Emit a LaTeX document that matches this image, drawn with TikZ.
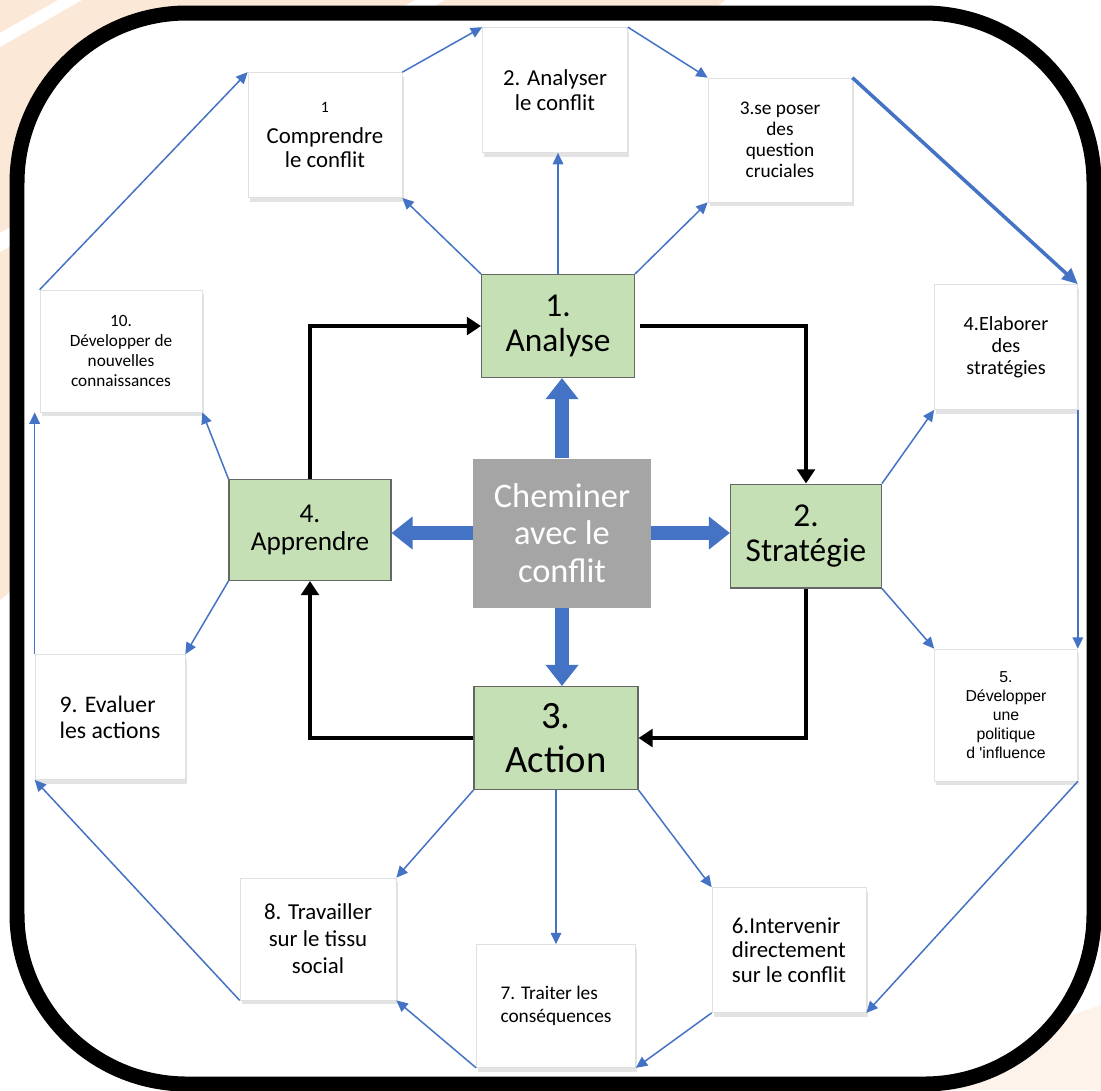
\documentclass[tikz,border=0pt]{standalone}
\usepackage{fontspec}
\setmainfont{Carlito}
\newfontfamily\arialfont{Liberation Sans}
\usetikzlibrary{arrows.meta,calc,shadows}
\definecolor{beige}{HTML}{FCE8D6}
\definecolor{beigeclair}{HTML}{FDF3EA}
\definecolor{vert}{HTML}{C5E0B4}
\definecolor{gris}{HTML}{A5A5A5}
\definecolor{bleu}{HTML}{4472C4}
\tikzset{%
	etape/.style  = {draw=black!12, fill=white, rectangle, inner sep=0pt, align=center, drop shadow={shadow xshift=1pt, shadow yshift=-2.5pt, opacity=0.22}},
	phase/.style  = {draw=black!60, line width=0.6pt, fill=vert, rectangle, inner sep=0pt, align=center},
	centre/.style = {fill=gris, rectangle, inner sep=0pt, text=white, align=center},
	fleche/.style = {bleu, line width=0.85pt, -{Triangle[length=6.5pt,width=6pt]}},
	boucle/.style = {line width=2.8pt, -{Triangle[length=8pt,width=10pt]}},
	grosse/.style = {bleu, line width=8pt, -{Triangle[length=12pt,width=18pt]}},
}
\newcommand{\taille}[2]{\fontsize{#1}{#2}\selectfont}

\begin{document}
\begin{tikzpicture}[x=0.02cm,y=-0.02cm]
		\useasboundingbox (0,0) rectangle (1101,1090);
		% fond
		\fill[white] (0,0) rectangle (1101,1090);
		\fill[beige] (0,0) -- (725,0) -- (0,600) -- cycle;
		\fill[white] (0,33) -- (58,0) -- (82,0) -- (0,47) -- cycle;
		\fill[white] (0,233) -- (415,0) -- (445,0) -- (0,252) -- cycle;
		\fill[beigeclair] (1101,1005) -- (1101,1090) -- (850,1090) -- cycle;
		\draw[line width=0.3cm, rounded corners=3.4cm, fill=white] (17,13) rectangle (1094,1084);
		
		% etapes
		\node[etape, minimum width=3.08cm, minimum height=2.5cm, font=\taille{13}{13.6}] (comprendre) at (325,135) {{\taille{9}{10}1}\\[4pt]Comprendre\\le conflit};
		\node[etape, minimum width=2.9cm, minimum height=2.5cm, font=\taille{13}{14}] (analyser) at (555,90) {2. Analyser\\le conflit};
		\node[etape, minimum width=2.88cm, minimum height=2.48cm, font=\taille{11}{12}] (questions) at (780,140) {3.se poser\\des\\question\\cruciales};
		\node[etape, minimum width=2.86cm, minimum height=2.5cm, font=\taille{11.5}{12.5}] (elaborer) at (1006,347) {4.Elaborer\\des\\stratégies};
		\node[etape, minimum width=2.86cm, minimum height=2.64cm, font=\arialfont\taille{9}{10.8}] (influence) at (1006,715) {5.\\Développer\\une\\politique\\d 'influence};
		\node[etape, minimum width=3.08cm, minimum height=2.5cm, font=\taille{13}{14}, align=left] (intervenir) at (789,950) {6.Intervenir\\directement\\sur le conflit};
		\node[etape, minimum width=3.18cm, minimum height=2.46cm, font=\taille{11}{13}, align=left] (traiter) at (556,1006) {7. Traiter les\\conséquences};
		\node[etape, minimum width=3.12cm, minimum height=2.44cm, font=\taille{13}{15.3}] (tissu) at (318,939) {8. Travailler\\sur le tissu\\social};
		\node[etape, minimum width=3.0cm, minimum height=2.5cm, font=\taille{13.5}{14.7}, align=left] (evaluer) at (110,717) {9. Evaluer\\les actions};
		\node[etape, minimum width=3.24cm, minimum height=2.44cm, font=\taille{9.8}{11.3}] (connaissances) at (121,351) {10.\\Développer de\\nouvelles\\connaissances};
		
		% phases
		\node[phase, minimum width=3.06cm, minimum height=2.06cm, font=\taille{19}{20}] (analyse) at (558,326) {1.\\Analyse};
		\node[phase, minimum width=3.02cm, minimum height=2.08cm, font=\taille{19}{20}] (strategie) at (806,536) {2.\\Stratégie};
		\node[phase, minimum width=3.28cm, minimum height=2.06cm, font=\taille{22}{25}] (action) at (556,738) {3.\\Action};
		\node[phase, minimum width=3.24cm, minimum height=2.02cm, font=\taille{15.5}{16}] (apprendre) at (310,530) {4.\\Apprendre};
		\node[centre, minimum width=3.56cm, minimum height=2.98cm, font=\taille{19.6}{21.5}] (cheminer) at (562,533) {Cheminer\\avec le\\conflit};
		
		% fleches centrales
		\draw[grosse] (cheminer.north) -- (cheminer.north |- analyse.south);
		\draw[grosse] (cheminer.south) -- (cheminer.south |- action.north);
		\draw[grosse] (cheminer.east) -- (cheminer.east -| strategie.west);
		\draw[grosse] (cheminer.west) -- (cheminer.west -| apprendre.east);
		
		% boucle
		\draw[boucle] ([xshift=3pt]analyse.east) -| (strategie.north);
		\draw[boucle] (strategie.south) |- (action.east);
		\draw[boucle] (action.west) -| (apprendre.south);
		\draw[boucle] (apprendre.north) |- (analyse.west);
		
		% anneau exterieur
		\draw[fleche] (connaissances.north west) -- (comprendre.north west);
		\draw[fleche] (comprendre.north east) -- (analyser.north west);
		\draw[fleche] (analyser.north east) -- (questions.north west);
		\draw[fleche, line width=2pt, -{Triangle[length=9pt,width=8pt]}] (questions.north east) -- (elaborer.north east);
		\draw[fleche] (elaborer.south east) -- (influence.north east);
		\draw[fleche] (influence.south east) -- (intervenir.south east);
		\draw[fleche] (intervenir.south west) -- (traiter.south east);
		\draw[fleche] (traiter.south west) -- (tissu.south east);
		\draw[fleche] (tissu.south west) -- (evaluer.south west);
		\draw[fleche] (evaluer.north west) -- (evaluer.north west |- connaissances.south);
		
		% rayons
		\draw[fleche] (analyse.north west) -- (comprendre.south east);
		\draw[fleche] (analyse.north) -- (analyse.north |- analyser.south);
		\draw[fleche] (analyse.north east) -- (questions.south west);
		\draw[fleche] (strategie.north east) -- (elaborer.south west);
		\draw[fleche] (strategie.south east) -- (influence.north west);
		\draw[fleche] (action.south east) -- (intervenir.north west);
		\draw[fleche] (action.south) -- (traiter.north);
		\draw[fleche] (action.south west) -- (tissu.north east);
		\draw[fleche] (apprendre.south west) -- (evaluer.north east);
		\draw[fleche] (apprendre.north west) -- (connaissances.south east);
		
\end{tikzpicture}
\end{document}
